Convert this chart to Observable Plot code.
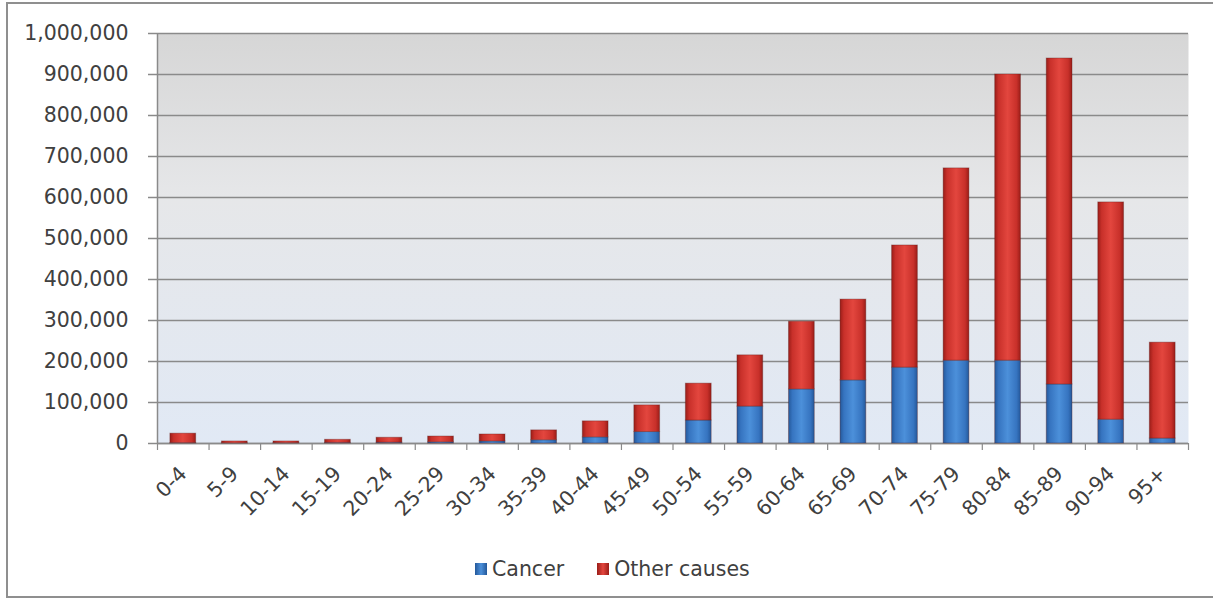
<!DOCTYPE html>
<html>
<head>
<meta charset="utf-8">
<script src="https://cdn.jsdelivr.net/npm/d3@7"></script>
<script src="https://cdn.jsdelivr.net/npm/@observablehq/plot@0.6"></script>
<style>
  body { margin: 0; background: #fff; font-family: "DejaVu Sans", sans-serif; }
  #wrap { position: relative; width: 1213px; height: 605px; overflow: hidden; background: #fff; }
  #border { position: absolute; left: 6px; top: 2px; width: 1230px; height: 596px; border: 2px solid #8f8f8f; box-sizing: border-box; pointer-events: none; }
  #legend { position: absolute; left: 475px; top: 557px; display: flex; align-items: center; font-size: 20.5px; color: #404040; }
  .sw { width: 12px; height: 12px; margin-right: 5px; display: inline-block; }
  .item { display: flex; align-items: center; margin-right: 33px; }
</style>
</head>
<body>
<svg width="0" height="0" style="position:absolute">
  <defs>
    <linearGradient id="gBlue" x1="0" x2="1" y1="0" y2="0">
      <stop offset="0%" stop-color="#24589a"/>
      <stop offset="15%" stop-color="#3674c0"/>
      <stop offset="50%" stop-color="#4c90da"/>
      <stop offset="85%" stop-color="#3674c0"/>
      <stop offset="100%" stop-color="#24589a"/>
    </linearGradient>
    <linearGradient id="gRed" x1="0" x2="1" y1="0" y2="0">
      <stop offset="0%" stop-color="#9a1d18"/>
      <stop offset="15%" stop-color="#c8302a"/>
      <stop offset="50%" stop-color="#e3463e"/>
      <stop offset="85%" stop-color="#c8302a"/>
      <stop offset="100%" stop-color="#9a1d18"/>
    </linearGradient>
    <linearGradient id="gBg" x1="0" x2="0" y1="0" y2="1">
      <stop offset="0%" stop-color="#d6d6d6"/>
      <stop offset="40%" stop-color="#e6e7e9"/>
      <stop offset="100%" stop-color="#e1e9f5"/>
    </linearGradient>
  </defs>
</svg>
<div id="wrap">
  <div id="chart"></div>
  <div id="legend">
    <span class="item"><span class="sw" style="background:linear-gradient(90deg,#24589a,#4c90da,#24589a)"></span>Cancer</span>
    <span class="item"><span class="sw" style="background:linear-gradient(90deg,#9a1d18,#e3463e,#9a1d18)"></span>Other causes</span>
  </div>
  <div id="border"></div>
</div>
<script>
const ages = ["0-4","5-9","10-14","15-19","20-24","25-29","30-34","35-39","40-44","45-49","50-54","55-59","60-64","65-69","70-74","75-79","80-84","85-89","90-94","95+"];
const cancer = [1000, 500, 800, 1500, 2000, 3000, 5000, 8000, 15000, 28000, 56000, 90000, 132000, 154000, 185000, 202000, 202000, 144000, 58000, 12000];
const otherCauses = [23000, 4500, 4200, 7500, 12000, 14000, 17000, 24000, 39000, 65000, 90000, 125000, 165000, 197000, 298000, 469000, 698000, 795000, 530000, 234000];
const seriesNames = ["Cancer", "Other causes"];
const yTicks = [0, 100000, 200000, 300000, 400000, 500000, 600000, 700000, 800000, 900000, 1000000];

const rows = [];
ages.forEach((a, i) => {
  rows.push({age: a, cause: seriesNames[0], value: cancer[i]});
  rows.push({age: a, cause: seriesNames[1], value: otherCauses[i]});
});

const W = 1213, ML = 157, MR = 25;
const step = (W - ML - MR) / ages.length;
const grid = "#8a8a8a";

const chart = Plot.plot({
  width: W,
  height: 545,
  marginLeft: ML,
  marginRight: MR,
  marginTop: 33,
  marginBottom: 102,
  style: {fontFamily: "DejaVu Sans, sans-serif", color: "#404040", background: "transparent"},
  x: {domain: ages, paddingInner: 0.5, paddingOuter: 0.25, round: false, label: null},
  y: {domain: [0, 1000000], label: null},
  color: {type: "ordinal", domain: seriesNames, range: ["url(#gBlue)", "url(#gRed)"]},
  marks: [
    Plot.frame({fill: "url(#gBg)", stroke: null}),
    Plot.gridY(yTicks, {stroke: grid, strokeOpacity: 1, strokeWidth: 1.5}),
    Plot.axisY(yTicks, {tickSize: 9, tickPadding: 20, tickFormat: d3.format(","), fontSize: 20.5, stroke: grid, strokeWidth: 1.5, label: null}),
    Plot.ruleX([ages[0]], {dx: -step / 2, stroke: grid, strokeWidth: 1.5}),
    Plot.ruleY([0], {stroke: grid, strokeWidth: 1.5}),
    Plot.axisX(ages, {tickSize: 7, dx: step / 2, tickFormat: () => "", stroke: grid, strokeWidth: 1.2, label: null}),
    Plot.axisX([ages[0]], {tickSize: 7, dx: -step / 2, tickFormat: () => "", stroke: grid, strokeWidth: 1.2, label: null}),
    Plot.axisX(ages, {tickSize: 0, tickPadding: 27, tickRotate: -45, fontSize: 20.5, dx: 0, label: null}),
    Plot.barY(rows, {x: "age", y: "value", fill: "cause", stroke: "#5a1a16", strokeOpacity: 0.35, strokeWidth: 1})
  ]
});
document.getElementById("chart").appendChild(chart);
</script>
</body>
</html>
